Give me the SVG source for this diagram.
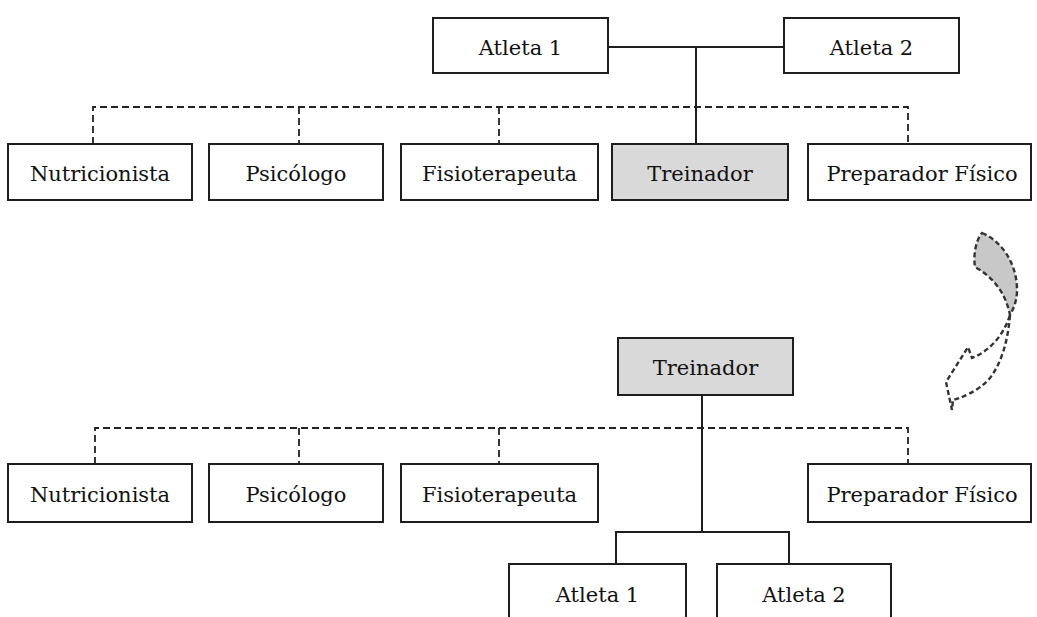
<svg xmlns="http://www.w3.org/2000/svg" width="1037" height="617" viewBox="0 0 1037 617">
<style>
.box{fill:#ffffff;stroke:#1e1e1e;stroke-width:2}
.hl{fill:#d9d9d9}
.lbl{font-family:"DejaVu Serif","Liberation Serif",serif;font-size:21px;fill:#111111;text-anchor:middle}
.solid{fill:none;stroke:#1e1e1e;stroke-width:2}
.dash{fill:none;stroke:#222222;stroke-width:1.8;stroke-dasharray:7 4}
.curve{stroke:#333333;stroke-width:2.4;stroke-dasharray:5 3}
</style>
<rect width="1037" height="617" fill="#ffffff"/>
<g id="connectors">
<path class="solid" d="M608 47H784M696 47V144"/>
<path class="dash" d="M93 144V107H908V144M299 107V144M499 107V144"/>
<path class="solid" d="M702 395V532M616 564V532H789V564"/>
<path class="dash" d="M95 464V428H908V464M299 428V464M499 428V464"/>
</g>
<g id="top-atleta1"><rect class="box" x="433" y="18" width="175" height="55"/><text class="lbl" x="520.5" y="55">Atleta 1</text></g>
<g id="top-atleta2"><rect class="box" x="784" y="18" width="175" height="55"/><text class="lbl" x="871.5" y="55">Atleta 2</text></g>
<g id="top-nutricionista"><rect class="box" x="8" y="144" width="184" height="56"/><text class="lbl" x="100" y="181">Nutricionista</text></g>
<g id="top-psicologo"><rect class="box" x="209" y="144" width="174" height="56"/><text class="lbl" x="296" y="181">Psicólogo</text></g>
<g id="top-fisioterapeuta"><rect class="box" x="401" y="144" width="197" height="56"/><text class="lbl" x="499.5" y="181">Fisioterapeuta</text></g>
<g id="top-treinador"><rect class="box hl" x="612" y="144" width="176" height="56"/><text class="lbl" x="700" y="181">Treinador</text></g>
<g id="top-preparador"><rect class="box" x="808" y="144" width="223" height="56"/><text class="lbl" x="922" y="181">Preparador Físico</text></g>
<g id="curved-arrow">
<path class="curve" fill="#c8c8c8" d="M982 233C1000 240 1017 262 1017 290C1017 300 1014 308 1010 315C1006 295 995 278 975 267C973 255 976 240 982 233Z"/>
<path class="curve" fill="none" d="M1010 315C1008 340 1002 362 990 378C978 392 960 398 953 400L952 410L946 382L968 347L972 358C985 353 1002 340 1010 315"/>
</g>
<g id="bottom-treinador"><rect class="box hl" x="618" y="338" width="175" height="57"/><text class="lbl" x="705.5" y="375">Treinador</text></g>
<g id="bottom-nutricionista"><rect class="box" x="8" y="464" width="184" height="58"/><text class="lbl" x="100" y="502">Nutricionista</text></g>
<g id="bottom-psicologo"><rect class="box" x="209" y="464" width="174" height="58"/><text class="lbl" x="296" y="502">Psicólogo</text></g>
<g id="bottom-fisioterapeuta"><rect class="box" x="401" y="464" width="197" height="58"/><text class="lbl" x="499.5" y="502">Fisioterapeuta</text></g>
<g id="bottom-preparador"><rect class="box" x="808" y="464" width="223" height="58"/><text class="lbl" x="922" y="502">Preparador Físico</text></g>
<g id="bottom-atleta1"><rect class="box" x="509" y="564" width="177" height="70"/><text class="lbl" x="597.5" y="602">Atleta 1</text></g>
<g id="bottom-atleta2"><rect class="box" x="717" y="564" width="174" height="70"/><text class="lbl" x="804" y="602">Atleta 2</text></g>
</svg>
